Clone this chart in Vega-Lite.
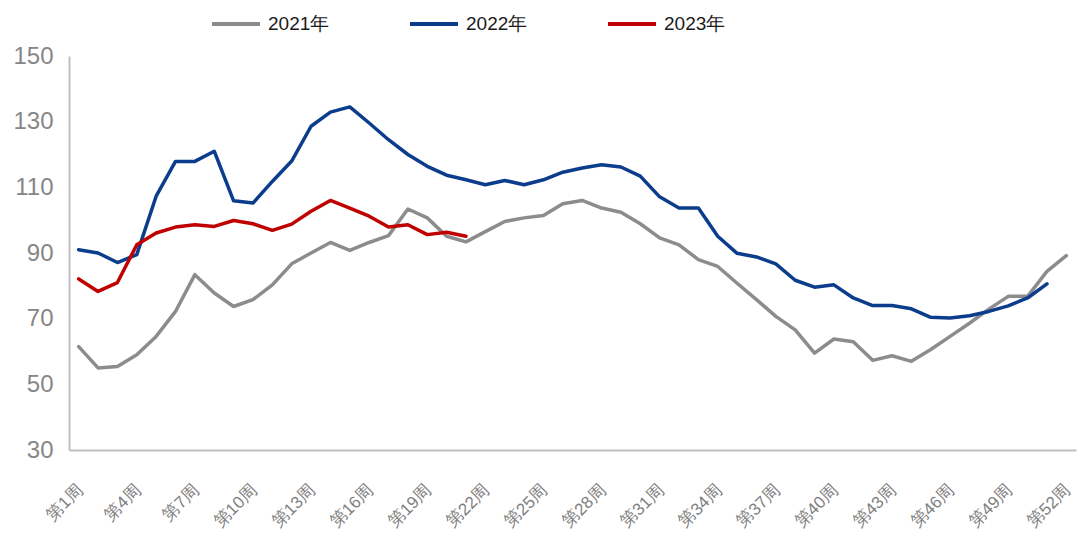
{
  "$schema": "https://vega.github.io/schema/vega-lite/v6.json",
  "autosize": {"type": "none"},
  "padding": {"left": 69, "top": 56, "right": 8, "bottom": 96},
  "width": 1007,
  "height": 394,
  "background": "white",
  "config": {
    "view": {"stroke": null},
    "font": "Liberation Sans"
  },
  "datasets": {
    "d": [
      {"year": "2021年", "week": 1, "value": 61.5}, {"year": "2021年", "week": 2, "value": 55.0}, {"year": "2021年", "week": 3, "value": 55.4}, {"year": "2021年", "week": 4, "value": 59.0}, {"year": "2021年", "week": 5, "value": 64.6}, {"year": "2021年", "week": 6, "value": 72.2}, {"year": "2021年", "week": 7, "value": 83.4}, {"year": "2021年", "week": 8, "value": 77.8}, {"year": "2021年", "week": 9, "value": 73.7}, {"year": "2021年", "week": 10, "value": 75.8}, {"year": "2021年", "week": 11, "value": 80.3}, {"year": "2021年", "week": 12, "value": 86.7}, {"year": "2021年", "week": 13, "value": 90.0}, {"year": "2021年", "week": 14, "value": 93.2}, {"year": "2021年", "week": 15, "value": 90.8}, {"year": "2021年", "week": 16, "value": 93.2}, {"year": "2021年", "week": 17, "value": 95.3}, {"year": "2021年", "week": 18, "value": 103.4}, {"year": "2021年", "week": 19, "value": 100.7}, {"year": "2021年", "week": 20, "value": 95.1}, {"year": "2021年", "week": 21, "value": 93.4}, {"year": "2021年", "week": 22, "value": 96.5}, {"year": "2021年", "week": 23, "value": 99.6}, {"year": "2021年", "week": 24, "value": 100.7}, {"year": "2021年", "week": 25, "value": 101.4}, {"year": "2021年", "week": 26, "value": 105.0}, {"year": "2021年", "week": 27, "value": 106.0}, {"year": "2021年", "week": 28, "value": 103.7}, {"year": "2021年", "week": 29, "value": 102.4}, {"year": "2021年", "week": 30, "value": 98.9}, {"year": "2021年", "week": 31, "value": 94.6}, {"year": "2021年", "week": 32, "value": 92.5}, {"year": "2021年", "week": 33, "value": 88.0}, {"year": "2021年", "week": 34, "value": 85.9}, {"year": "2021年", "week": 35, "value": 80.8}, {"year": "2021年", "week": 36, "value": 75.8}, {"year": "2021年", "week": 37, "value": 70.7}, {"year": "2021年", "week": 38, "value": 66.6}, {"year": "2021年", "week": 39, "value": 59.5}, {"year": "2021年", "week": 40, "value": 63.8}, {"year": "2021年", "week": 41, "value": 63.0}, {"year": "2021年", "week": 42, "value": 57.3}, {"year": "2021年", "week": 43, "value": 58.7}, {"year": "2021年", "week": 44, "value": 57.0}, {"year": "2021年", "week": 45, "value": 60.6}, {"year": "2021年", "week": 46, "value": 64.6}, {"year": "2021年", "week": 47, "value": 68.6}, {"year": "2021年", "week": 48, "value": 72.9}, {"year": "2021年", "week": 49, "value": 76.8}, {"year": "2021年", "week": 50, "value": 76.8}, {"year": "2021年", "week": 51, "value": 84.4}, {"year": "2021年", "week": 52, "value": 89.2},
      {"year": "2022年", "week": 1, "value": 91.0}, {"year": "2022年", "week": 2, "value": 90.0}, {"year": "2022年", "week": 3, "value": 87.1}, {"year": "2022年", "week": 4, "value": 89.5}, {"year": "2022年", "week": 5, "value": 107.3}, {"year": "2022年", "week": 6, "value": 117.9}, {"year": "2022年", "week": 7, "value": 117.9}, {"year": "2022年", "week": 8, "value": 121.0}, {"year": "2022年", "week": 9, "value": 105.9}, {"year": "2022年", "week": 10, "value": 105.2}, {"year": "2022年", "week": 11, "value": 111.8}, {"year": "2022年", "week": 12, "value": 118.0}, {"year": "2022年", "week": 13, "value": 128.6}, {"year": "2022年", "week": 14, "value": 132.9}, {"year": "2022年", "week": 15, "value": 134.5}, {"year": "2022年", "week": 16, "value": 129.6}, {"year": "2022年", "week": 17, "value": 124.5}, {"year": "2022年", "week": 18, "value": 120.0}, {"year": "2022年", "week": 19, "value": 116.4}, {"year": "2022年", "week": 20, "value": 113.7}, {"year": "2022年", "week": 21, "value": 112.3}, {"year": "2022年", "week": 22, "value": 110.8}, {"year": "2022年", "week": 23, "value": 112.1}, {"year": "2022年", "week": 24, "value": 110.8}, {"year": "2022年", "week": 25, "value": 112.3}, {"year": "2022年", "week": 26, "value": 114.6}, {"year": "2022年", "week": 27, "value": 115.9}, {"year": "2022年", "week": 28, "value": 116.9}, {"year": "2022年", "week": 29, "value": 116.2}, {"year": "2022年", "week": 30, "value": 113.4}, {"year": "2022年", "week": 31, "value": 107.1}, {"year": "2022年", "week": 32, "value": 103.7}, {"year": "2022年", "week": 33, "value": 103.7}, {"year": "2022年", "week": 34, "value": 95.1}, {"year": "2022年", "week": 35, "value": 89.9}, {"year": "2022年", "week": 36, "value": 88.8}, {"year": "2022年", "week": 37, "value": 86.7}, {"year": "2022年", "week": 38, "value": 81.7}, {"year": "2022年", "week": 39, "value": 79.6}, {"year": "2022年", "week": 40, "value": 80.3}, {"year": "2022年", "week": 41, "value": 76.3}, {"year": "2022年", "week": 42, "value": 74.0}, {"year": "2022年", "week": 43, "value": 74.0}, {"year": "2022年", "week": 44, "value": 73.0}, {"year": "2022年", "week": 45, "value": 70.4}, {"year": "2022年", "week": 46, "value": 70.2}, {"year": "2022年", "week": 47, "value": 70.9}, {"year": "2022年", "week": 48, "value": 72.2}, {"year": "2022年", "week": 49, "value": 73.9}, {"year": "2022年", "week": 50, "value": 76.3}, {"year": "2022年", "week": 51, "value": 80.6},
      {"year": "2023年", "week": 1, "value": 82.1}, {"year": "2023年", "week": 2, "value": 78.3}, {"year": "2023年", "week": 3, "value": 81.0}, {"year": "2023年", "week": 4, "value": 92.5}, {"year": "2023年", "week": 5, "value": 96.1}, {"year": "2023年", "week": 6, "value": 97.9}, {"year": "2023年", "week": 7, "value": 98.6}, {"year": "2023年", "week": 8, "value": 98.1}, {"year": "2023年", "week": 9, "value": 99.9}, {"year": "2023年", "week": 10, "value": 98.9}, {"year": "2023年", "week": 11, "value": 96.9}, {"year": "2023年", "week": 12, "value": 98.8}, {"year": "2023年", "week": 13, "value": 102.7}, {"year": "2023年", "week": 14, "value": 106.0}, {"year": "2023年", "week": 15, "value": 103.7}, {"year": "2023年", "week": 16, "value": 101.2}, {"year": "2023年", "week": 17, "value": 97.9}, {"year": "2023年", "week": 18, "value": 98.6}, {"year": "2023年", "week": 19, "value": 95.6}, {"year": "2023年", "week": 20, "value": 96.3}, {"year": "2023年", "week": 21, "value": 95.1}
    ]
  },
  "data": {"name": "d"},
  "mark": {"type": "line", "strokeWidth": 3.5, "strokeJoin": "round", "strokeCap": "round"},
  "encoding": {
    "x": {
      "field": "week",
      "type": "quantitative",
      "scale": {"domain": [0.5, 52.5], "nice": false, "zero": false},
      "axis": {
        "title": null,
        "values": [1, 4, 7, 10, 13, 16, 19, 22, 25, 28, 31, 34, 37, 40, 43, 46, 49, 52],
        "labelExpr": "'第' + datum.value + '周'",
        "labelAngle": -45,
        "labelAlign": "right",
        "labelBaseline": "middle",
        "labelFontSize": 17,
        "labelColor": "#7f7f7f",
        "labelFont": "Liberation Sans",
        "labelPadding": 37,
        "labelOffset": 1,
        "labelOverlap": false,
        "labelBound": false,
        "labelFlush": false,
        "ticks": false,
        "grid": false,
        "domainColor": "#bfbfbf",
        "domainWidth": 2
      }
    },
    "y": {
      "field": "value",
      "type": "quantitative",
      "scale": {"domain": [30, 150], "nice": false, "zero": false},
      "axis": {
        "title": null,
        "values": [30, 50, 70, 90, 110, 130, 150],
        "labelFontSize": 24,
        "labelColor": "#868686",
        "labelFont": "Liberation Sans",
        "labelPadding": 16,
        "ticks": false,
        "grid": false,
        "domainColor": "#bfbfbf",
        "domainWidth": 2
      }
    },
    "color": {
      "field": "year",
      "type": "nominal",
      "scale": {"domain": ["2021年", "2022年", "2023年"], "range": ["#8c8c8c", "#0b3d8c", "#c00000"]},
      "legend": {
        "title": null,
        "orient": "none",
        "direction": "horizontal",
        "legendX": 141,
        "legendY": -58,
        "padding": 0,
        "symbolType": "stroke",
        "symbolSize": 2304,
        "symbolStrokeWidth": 4,
        "labelFontSize": 19,
        "labelColor": "#1a1a1a",
        "labelFont": "Liberation Sans",
        "labelOffset": 6,
        "columnPadding": 72,
        "labelLimit": 200
      }
    }
  }
}
